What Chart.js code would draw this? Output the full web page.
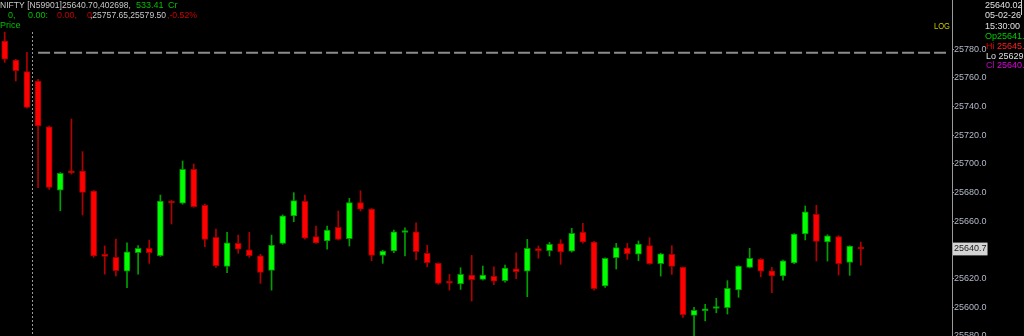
<!doctype html>
<html lang="en">
<head>
<meta charset="utf-8">
<title>NIFTY [N59901]</title>
<script src="https://cdn.jsdelivr.net/npm/chart.js"></script>
<style>
  html, body { margin: 0; padding: 0; background: #000; overflow: hidden; }
  #wrap { position: relative; width: 1024px; height: 336px; }
</style>
</head>
<body>
<div id="wrap"><canvas id="chart"></canvas></div>
<script>
// candle values, one per bar
const opens = [25785.8, 25772.5, 25764.4, 25757.9, 25726.0, 25681.8, 25694.5, 25695.1, 25681.1, 25636.5,
  25634.9, 25625.3, 25638.1, 25641.2, 25636.0, 25673.8, 25672.6, 25696.3, 25671.2, 25648.8,
  25628.6, 25644.6, 25640.2, 25636.0, 25625.8, 25644.6, 25663.7, 25674.0, 25649.3, 25646.3,
  25655.8, 25647.9, 25673.0, 25668.6, 25636.3, 25639.3, 25652.2, 25652.7, 25637.7, 25630.7,
  25617.6, 25616.3, 25622.5, 25619.5, 25621.6, 25618.6, 25626.9, 25625.3, 25640.4, 25639.5,
  25644.4, 25639.1, 25652.3, 25645.6, 25615.0, 25634.6, 25641.4, 25637.0, 25643.0, 25630.4,
  25637.0, 25627.9, 25594.4, 25597.6, 25599.2, 25599.7, 25612.1, 25627.9, 25633.5, 25625.5,
  25622.0, 25630.9, 25651.3, 25664.9, 25645.6, 25649.3, 25631.4, 25641.6];
const highs = [25791.9, 25773.0, 25777.9, 25759.0, 25726.5, 25694.0, 25731.4, 25708.6, 25681.5, 25642.8,
  25647.6, 25645.0, 25643.0, 25646.9, 25678.3, 25674.5, 25702.1, 25700.0, 25672.0, 25654.6,
  25652.3, 25650.4, 25652.3, 25637.0, 25650.4, 25664.5, 25680.0, 25678.3, 25656.7, 25656.7,
  25667.2, 25676.0, 25681.3, 25669.0, 25639.8, 25653.9, 25655.5, 25659.0, 25643.3, 25631.0,
  25623.0, 25627.6, 25636.3, 25628.8, 25628.3, 25629.5, 25638.1, 25647.4, 25642.8, 25645.3,
  25647.2, 25655.1, 25658.6, 25646.0, 25634.5, 25644.6, 25644.6, 25646.3, 25648.6, 25637.8,
  25643.0, 25628.3, 25600.0, 25602.1, 25606.3, 25618.6, 25629.0, 25641.2, 25634.0, 25627.9,
  25633.0, 25651.5, 25670.7, 25671.2, 25650.6, 25650.0, 25643.0, 25645.5];
const lows = [25770.9, 25757.9, 25739.0, 25683.4, 25682.3, 25667.4, 25693.0, 25664.4, 25634.9, 25623.2,
  25622.0, 25613.7, 25623.2, 25630.7, 25635.5, 25658.1, 25672.0, 25669.8, 25642.3, 25627.9,
  25624.1, 25637.7, 25634.9, 25616.7, 25612.0, 25644.0, 25659.7, 25647.5, 25644.5, 25640.5,
  25647.0, 25642.8, 25667.2, 25632.5, 25630.7, 25638.1, 25635.8, 25633.0, 25628.3, 25616.0,
  25612.0, 25612.5, 25604.4, 25619.0, 25615.8, 25617.5, 25620.0, 25607.4, 25634.2, 25635.8,
  25630.0, 25638.5, 25644.7, 25612.0, 25613.9, 25626.7, 25633.5, 25632.5, 25630.0, 25621.8,
  25623.0, 25593.0, 25578.0, 25590.6, 25596.2, 25595.3, 25607.0, 25627.5, 25621.3, 25610.2,
  25619.0, 25630.5, 25647.0, 25632.3, 25632.3, 25622.5, 25622.3, 25629.5];
const closes = [25773.2, 25765.1, 25739.5, 25726.5, 25683.7, 25693.5, 25693.8, 25680.2, 25635.8, 25635.5,
  25625.5, 25638.8, 25641.2, 25638.1, 25674.2, 25672.8, 25696.3, 25670.2, 25647.4, 25629.0,
  25645.0, 25640.5, 25636.0, 25624.4, 25643.5, 25663.9, 25674.4, 25648.3, 25645.0, 25653.9,
  25647.4, 25673.0, 25668.4, 25636.3, 25639.3, 25652.7, 25653.2, 25638.8, 25631.1, 25616.7,
  25616.8, 25623.0, 25619.3, 25622.5, 25618.3, 25627.4, 25624.8, 25641.2, 25639.6, 25644.0,
  25638.6, 25651.6, 25645.6, 25613.0, 25634.2, 25641.6, 25637.4, 25644.1, 25630.4, 25637.4,
  25628.6, 25594.8, 25597.9, 25598.6, 25600.2, 25613.3, 25628.8, 25634.2, 25625.3, 25622.0,
  25632.5, 25651.1, 25666.7, 25646.0, 25649.8, 25630.4, 25642.8, 25640.7];

const tickValues = [25580, 25600, 25620, 25640.7, 25660, 25680, 25700, 25720, 25740, 25760, 25780];
const lastPrice = 25640.7;
const refLevel = 25777.6;     // grey dashed level line
const sessionBreak = 2.5;     // dotted day separator (between bars 2 and 3)

const UP = '#00ff00', DOWN = '#ff0000';
const UP_EDGE = '#009000', DOWN_EDGE = '#a00000';
const UP_WICK = '#00a000', DOWN_WICK = '#b00000';

const isUp = i => closes[i] >= opens[i];

const bodies = opens.map((o, i) => ({ x: i, y: [Math.min(o, closes[i]), Math.max(o, closes[i])] }));
const wicks = lows.map((l, i) => ({ x: i, y: [l, highs[i]] }));

const overlay = {
  id: 'overlay',
  beforeDraw(chart) {
    const c = chart.ctx;
    c.save();
    c.fillStyle = '#000';
    c.fillRect(0, 0, chart.width, chart.height);
    c.restore();
  },
  beforeDatasetsDraw(chart) {
    const c = chart.ctx;
    const xs = chart.scales.x, ys = chart.scales.y, area = chart.chartArea;
    c.save();
    // day separator
    const bx = Math.round(xs.getPixelForValue(sessionBreak)) + 0.5;
    c.strokeStyle = '#9a9a9a';
    c.lineWidth = 1;
    c.setLineDash([2, 2]);
    c.beginPath();
    c.moveTo(bx, 32);
    c.lineTo(bx, area.bottom);
    c.stroke();
    // level line
    const ly = ys.getPixelForValue(refLevel);
    c.strokeStyle = '#8c8c8c';
    c.lineWidth = 2;
    c.setLineDash([12, 4]);
    c.beginPath();
    c.moveTo(xs.getPixelForValue(3), ly);
    c.lineTo(area.right - 6, ly);
    c.stroke();
    c.restore();
  },
  afterDraw(chart) {
    const c = chart.ctx;
    c.save();
    c.font = '9px "Liberation Sans", Arial, sans-serif';
    c.textBaseline = 'middle';
    const put = (txt, x, y, col, w) => { c.fillStyle = col; c.fillText(txt, x, y, w); };

    // header
    put('NIFTY [N59901]25640.70,402698,', 0, 6, '#c8c8c8', 131);
    put('533.41', 136, 6, '#00c000', 28);
    put('Cr', 168, 6, '#00c000');
    put('0,', 8, 16, '#00c000');
    put('0.00:', 28, 16, '#00c000', 20);
    put('0.00,', 57, 16, '#c00000', 20);
    put('0', 87, 16, '#c00000');
    put(',25757.65,25579.50', 90, 16, '#c8c8c8', 76);
    put(',-0.52%', 167, 16, '#d00000', 30);
    put('Price', 0, 26, '#00c000');

    put('LOG', 934, 27, '#c8c800', 16);

    // info panel
    put('25640.02', 985, 6, '#e0e0e0');
    put('05-02-26', 985, 16, '#e0e0e0');
    put('15:30:00', 985, 27, '#e0e0e0');
    put('Op25641.', 985, 37, '#00d000');
    put('Hi', 986, 47, '#e00000');
    put('25645.', 997, 47, '#ff2020');
    put('Lo 25629.', 986, 56.5, '#e0e0e0');
    put('Cl', 986, 66, '#c000c0');
    put('25640.', 997, 66, '#e000e0');

    c.strokeStyle = '#d0d0d0';
    c.lineWidth = 1;
    c.beginPath();
    c.moveTo(1021.5, 0);
    c.lineTo(1021.5, 15);
    c.stroke();
    c.restore();
  }
};

new Chart(document.getElementById('chart'), {
  type: 'bar',
  data: {
    datasets: [
      {
        label: 'body',
        data: bodies,
        backgroundColor: bodies.map((b, i) => isUp(i) ? UP : DOWN),
        borderColor: bodies.map((b, i) => isUp(i) ? UP_EDGE : DOWN_EDGE),
        borderWidth: 1,
        borderSkipped: false,
        barThickness: 6,
        minBarLength: 2,
        grouped: false,
        order: 1
      },
      {
        label: 'wick',
        data: wicks,
        backgroundColor: wicks.map((w, i) => isUp(i) ? UP_WICK : DOWN_WICK),
        borderWidth: 0,
        barThickness: 1,
        grouped: false,
        order: 2
      }
    ]
  },
  options: {
    responsive: true,
    maintainAspectRatio: false,
    animation: false,
    devicePixelRatio: 1,
    layout: { padding: 0 },
    plugins: {
      legend: { display: false },
      tooltip: { enabled: false }
    },
    scales: {
      x: {
        type: 'linear',
        display: false,
        offset: false,
        grid: { offset: false },
        min: -0.423,
        max: 85.2
      },
      y: {
        type: 'linear',
        position: 'right',
        min: 25580,
        max: 25814.4,
        afterBuildTicks: s => { s.ticks = tickValues.map(v => ({ value: v })); },
        afterFit: s => { s.width = 72; s.paddingTop = 0; s.paddingBottom = 0; },
        border: { display: true, color: '#9a9a9a', width: 1 },
        grid: { drawOnChartArea: false, drawTicks: true, tickLength: 2, color: '#9a9a9a' },
        ticks: {
          autoSkip: false,
          padding: 0,
          font: { family: 'Liberation Sans', size: 9 },
          color: ctx => (ctx.tick && ctx.tick.value === lastPrice) ? '#202020' : '#b4b8c8',
          showLabelBackdrop: ctx => !!(ctx.tick && ctx.tick.value === lastPrice),
          backdropColor: '#d4d4d4',
          backdropPadding: 1,
          callback: v => Number(v).toFixed(1)
        }
      }
    }
  },
  plugins: [overlay]
});
</script>
</body>
</html>
